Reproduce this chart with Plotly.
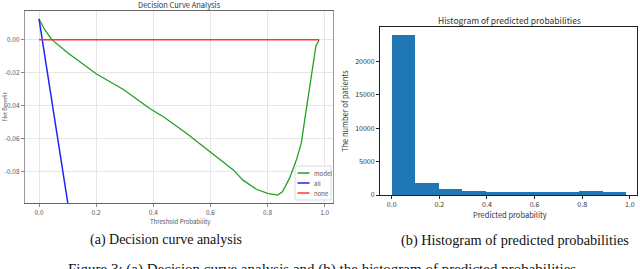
import plotly.graph_objects as go

W, H = 640, 269

# ---------------- data ----------------
model_x = [0.0, 0.02, 0.045, 0.1, 0.2, 0.294, 0.39, 0.434, 0.516, 0.6, 0.68, 0.714,
           0.761, 0.8, 0.835, 0.852, 0.877, 0.901, 0.918, 0.930, 0.936, 0.959, 0.969,
           0.978, 0.98]
model_y = [0.0125, 0.006, 0.0, -0.008, -0.0206, -0.030, -0.042, -0.0465, -0.0566,
           -0.0677, -0.0788, -0.085, -0.0905, -0.093, -0.094, -0.092, -0.0838, -0.0727,
           -0.0626, -0.0485, -0.042, -0.016, -0.004, -0.001, 0.0]
all_x = [0.0, 0.05, 0.1, 0.12]
all_y = [0.0125, -0.042, -0.098, -0.123]
none_x = [0.0, 0.98]
none_y = [0.0, 0.0]

dca_xticks = [0.0, 0.2, 0.4, 0.6, 0.8, 1.0]
dca_yticks = [0.0, -0.02, -0.04, -0.06, -0.08]

hist_edges = [0.0, 0.0985, 0.197, 0.2955, 0.394, 0.4925, 0.591, 0.6895, 0.788, 0.8865, 0.985]
hist_counts = [23950, 1840, 940, 650, 450, 400, 400, 400, 550, 450]
hist_xticks = [0.0, 0.2, 0.4, 0.6, 0.8, 1.0]
hist_yticks = [0, 5000, 10000, 15000, 20000]

legend_names = ["model", "all", "none"]
legend_colors = ["#22a022", "#2222ff", "#ff3333"]

# ---------------- helpers ----------------
def px_x(p):
    return p / W

def px_y(p):
    return 1 - p / H

FONT = "Noto Sans CJK KR"
SERIF = "Liberation Serif"

fig = go.Figure()

fig.add_trace(go.Scatter(x=model_x, y=model_y, mode="lines", xaxis="x", yaxis="y",
                         line=dict(color=legend_colors[0], width=1.3), showlegend=False))
fig.add_trace(go.Scatter(x=all_x, y=all_y, mode="lines", xaxis="x", yaxis="y",
                         line=dict(color=legend_colors[1], width=1.5), showlegend=False))
fig.add_trace(go.Scatter(x=none_x, y=none_y, mode="lines", xaxis="x", yaxis="y",
                         line=dict(color=legend_colors[2], width=1.5), showlegend=False))

centers = [(a + b) / 2 for a, b in zip(hist_edges[:-1], hist_edges[1:])]
widths = [b - a for a, b in zip(hist_edges[:-1], hist_edges[1:])]
fig.add_trace(go.Bar(x=centers, y=hist_counts, width=widths, xaxis="x2", yaxis="y2",
                     marker=dict(color="#1f77b4", line=dict(width=0)), showlegend=False))

fig.update_layout(
    width=W, height=H, margin=dict(l=0, r=0, t=0, b=0, autoexpand=False),
    paper_bgcolor="white", plot_bgcolor="white", showlegend=False,
    bargap=0,
    xaxis=dict(domain=[px_x(25), px_x(333)], range=[-0.049, 1.029], anchor="y",
               automargin=False,
               tickvals=dca_xticks, ticktext=[f"{v:.1f}" for v in dca_xticks],
               showgrid=True, gridcolor="#e6e6e6", gridwidth=1, zeroline=False,
               showline=True, linecolor="#666", linewidth=1.2, mirror=True,
               ticks="outside", ticklen=3, tickcolor="#888",
               tickfont=dict(family=FONT, size=6.5, color="#555")),
    yaxis=dict(domain=[px_y(203.3), px_y(10.7)], range=[-0.099, 0.0175], anchor="x",
               automargin=False,
               tickvals=dca_yticks, ticktext=[f"{v:.2f}" for v in dca_yticks],
               showgrid=True, gridcolor="#e6e6e6", gridwidth=1, zeroline=False,
               showline=True, linecolor="#999", linewidth=1.2, mirror=True,
               ticks="outside", ticklen=3, tickcolor="#888",
               tickfont=dict(family=FONT, size=6.5, color="#555")),
    xaxis2=dict(domain=[px_x(380), px_x(637)], range=[-0.049, 1.03], anchor="y2",
                automargin=False,
                tickvals=hist_xticks, ticktext=[f"{v:.1f}" for v in hist_xticks],
                showgrid=False, zeroline=False,
                showline=True, linecolor="#222", linewidth=1, mirror=True,
                ticks="outside", ticklen=3, tickcolor="#222",
                tickfont=dict(family=FONT, size=7, color="#333")),
    yaxis2=dict(domain=[px_y(195), px_y(27)], range=[0, 25150], anchor="x2",
                automargin=False,
                tickvals=hist_yticks, ticktext=[str(v) for v in hist_yticks],
                showgrid=False, zeroline=False,
                showline=True, linecolor="#222", linewidth=1, mirror=True,
                ticks="outside", ticklen=3, tickcolor="#222",
                tickfont=dict(family=FONT, size=7, color="#333")),
)

ann = []
def text(x, y, s, size, color="#333", family=FONT, angle=0, xanchor="center"):
    ann.append(dict(x=px_x(x), y=px_y(y), xref="paper", yref="paper", text=s,
                    showarrow=False, xanchor=xanchor, yanchor="middle", textangle=angle,
                    font=dict(family=family, size=size, color=color)))

text(179, 5, "Decision Curve Analysis", 7.5, "#333")
text(180, 221, "Threshold Probability", 6, "#555")
text(5, 107, "Net Benefit", 5.5, "#555", angle=-90)

text(509, 20, "Histogram of predicted probabilities", 8.5, "#333")
text(510, 214, "Predicted probability", 7.5, "#333")
text(344, 111, "The number of patients", 7.5, "#333", angle=-90)

text(166, 240, "(a) Decision curve analysis", 14, "#111", family=SERIF)
text(515, 240, "(b) Histogram of predicted probabilities", 14.3, "#111", family=SERIF)
text(322, 269, "Figure 3: (a) Decision curve analysis and (b) the histogram of predicted probabilities",
     15, "#111", family=SERIF)

# manual compact legend
shapes = [dict(type="rect", xref="paper", yref="paper",
               x0=px_x(295), x1=px_x(331), y0=px_y(200), y1=px_y(166),
               fillcolor="rgba(255,255,255,0.85)", line=dict(color="#d0d0d0", width=0.8))]
for i, (name, col) in enumerate(zip(legend_names, legend_colors)):
    yy = 173 + i * 10
    shapes.append(dict(type="line", xref="paper", yref="paper",
                       x0=px_x(297.5), x1=px_x(309.5), y0=px_y(yy), y1=px_y(yy),
                       line=dict(color=col, width=1.5)))
    text(312, yy, name, 6, "#555", xanchor="left")

fig.update_layout(annotations=ann, shapes=shapes)
fig.write_html("out.html", config={"displayModeBar": False},
               post_script="document.body.style.margin='0';document.body.style.overflow='hidden';")
